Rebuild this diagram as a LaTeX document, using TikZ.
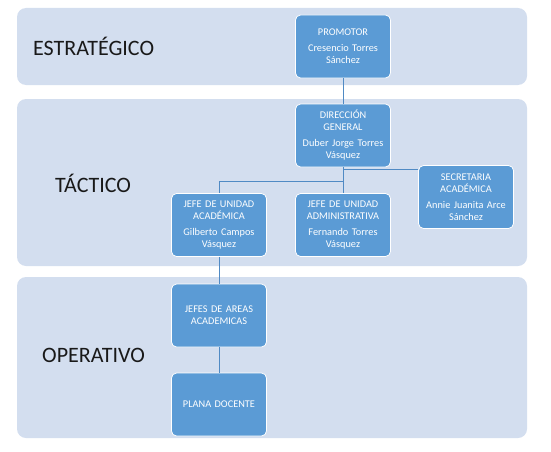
\documentclass[tikz,border=0pt]{standalone}
\usepackage{fontspec}
\setmainfont{Carlito}
\definecolor{bandfill}{RGB}{211,222,239}
\definecolor{boxfill}{RGB}{91,155,213}
\definecolor{linecol}{RGB}{80,138,196}
\begin{document}
\begin{tikzpicture}[x=1pt,y=-1pt,
  band/.style={fill=bandfill,rounded corners=9pt,draw=none},
  bandlabel/.style={anchor=west,inner sep=0pt,font=\fontsize{22}{26}\selectfont,text=black!90},
  orgbox/.style={fill=boxfill,draw=white,line width=0.8pt,rounded corners=5pt,
    minimum width=95pt,minimum height=63pt,text width=90pt,align=center,
    text=white,inner sep=1pt,font=\fontsize{10.3}{12}\selectfont},
  conn/.style={draw=linecol,line width=0.9pt}]
\useasboundingbox (0,0) rectangle (551,452);
% bands
\path[band] (17,8) rectangle (527,85);
\path[band] (17,99) rectangle (527,266);
\path[band] (17,277) rectangle (527,438);
\node[bandlabel] (lE) at (33,46) {ESTRATÉGICO};
\node[bandlabel] (lT) at (55,183) {TÁCTICO};
\node[bandlabel] (lO) at (42,355) {OPERATIVO};
% boxes
\node[orgbox] (prom) at (343,46.5) {PROMOTOR\\[4pt]Cresencio Torres\\Sánchez};
\node[orgbox] (dg) at (343,135.5) {DIRECCIÓN\\GENERAL\\[4pt]Duber Jorge Torres\\Vásquez};
\node[orgbox] (sec) at (466,197) {SECRETARIA\\ACADÉMICA\\[4pt]Annie Juanita Arce\\Sánchez};
\node[orgbox] (jua) at (219,225) {JEFE DE UNIDAD\\ACADÉMICA\\[4pt]Gilberto Campos\\Vásquez};
\node[orgbox] (juad) at (343,225) {JEFE DE UNIDAD\\ADMINISTRATIVA\\[4pt]Fernando Torres\\Vásquez};
\node[orgbox] (jar) at (219,315.5) {JEFES DE AREAS\\ACADEMICAS};
\node[orgbox] (pd) at (219,404.5) {PLANA DOCENTE};
% connectors
\coordinate (hb) at (343,181);
\coordinate (sj) at (343,169);
\draw[conn] (prom.south) -- (dg.north);
\draw[conn] (dg.south) -- (juad.north);
\draw[conn] (hb) -| (jua.north);
\draw[conn] (sj) -- (sj -| sec.west);
\draw[conn] (jua.south) -- (jar.north);
\draw[conn] (jar.south) -- (pd.north);
\end{tikzpicture}
\end{document}
